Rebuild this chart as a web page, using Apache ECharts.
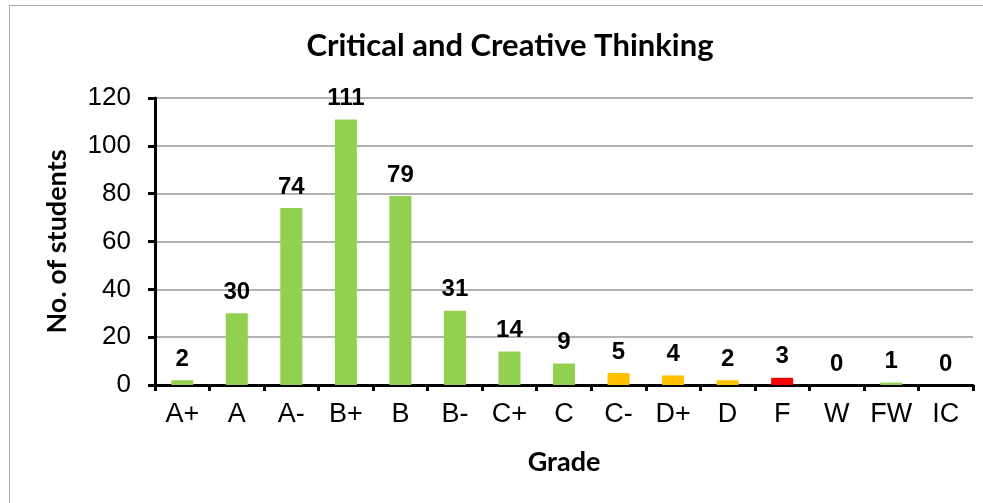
<!DOCTYPE html>
<html>
<head>
<meta charset="utf-8">
<script src="https://cdn.jsdelivr.net/npm/echarts@6/dist/echarts.min.js"></script>
<style>
    html, body {margin: 0; padding: 0; background: #fff;}
    #chart {width: 983px; height: 503px;}
</style>
</head>
<body>
<div id="chart"></div>
<script>
//成绩等级
var grades = ['A+', 'A', 'A-', 'B+', 'B', 'B-', 'C+', 'C', 'C-', 'D+', 'D', 'F', 'W', 'FW', 'IC'];
//学生人数
var students = [2, 30, 74, 111, 79, 31, 14, 9, 5, 4, 2, 3, 0, 1, 0];
//每根柱子的颜色
var barColors = ['#92d050', '#92d050', '#92d050', '#92d050', '#92d050', '#92d050', '#92d050', '#92d050',
    '#ffc000', '#ffc000', '#ffc000', '#ff0000', '#92d050', '#92d050', '#92d050'];
//纵轴刻度
var yTicks = [0, 20, 40, 60, 80, 100, 120];

var chart = echarts.init(document.getElementById('chart'));
var option = {
    animation: false,
    backgroundColor: '#fff',
    title: {
        text: 'Critical and Creative Thinking',
        left: 505,
        top: 25,
        textAlign: 'center',
        textStyle: {fontFamily: 'Lato', fontWeight: 'bold', fontSize: 31, color: '#000'}
    },
    graphic: [
        {
            type: 'rect',
            shape: {x: 9.5, y: 5.5, width: 1000, height: 600},
            style: {fill: null, stroke: '#a6a6a6', lineWidth: 1},
            silent: true
        }
    ],
    grid: {left: 155, right: 10, top: 98, bottom: 118},
    xAxis: {
        type: 'category',
        data: grades,
        name: 'Grade',
        nameLocation: 'middle',
        nameGap: 64,
        nameTextStyle: {fontFamily: 'Lato', fontWeight: 'bold', fontSize: 27, color: '#000'},
        axisLine: {lineStyle: {color: '#000', width: 3}},
        axisTick: {show: true, length: 6, lineStyle: {color: '#000', width: 3}},
        axisLabel: {interval: 0, margin: 16, fontFamily: 'Liberation Sans', fontSize: 27, color: '#000'}
    },
    yAxis: {
        type: 'value',
        min: yTicks[0],
        max: yTicks[yTicks.length - 1],
        interval: yTicks[1] - yTicks[0],
        name: 'No. of students',
        nameLocation: 'middle',
        nameRotate: 90,
        nameGap: 84,
        nameTextStyle: {fontFamily: 'Lato', fontWeight: 'bold', fontSize: 27, color: '#000'},
        axisLine: {show: true, lineStyle: {color: '#000', width: 3}},
        axisTick: {show: true, length: 7, lineStyle: {color: '#000', width: 3}},
        axisLabel: {margin: 24, fontFamily: 'Liberation Sans', fontSize: 26, color: '#000'},
        splitLine: {lineStyle: {color: '#999', width: 1.5}}
    },
    series: [
        {
            type: 'bar',
            barWidth: 22,
            data: students.map(function (v, i) {
                return {value: v, itemStyle: {color: barColors[i]}};
            }),
            label: {
                show: true,
                position: 'top',
                distance: 9,
                fontFamily: 'Liberation Sans',
                fontWeight: 'bold',
                fontSize: 24,
                color: '#000'
            }
        }
    ]
};
chart.setOption(option);
</script>
</body>
</html>
